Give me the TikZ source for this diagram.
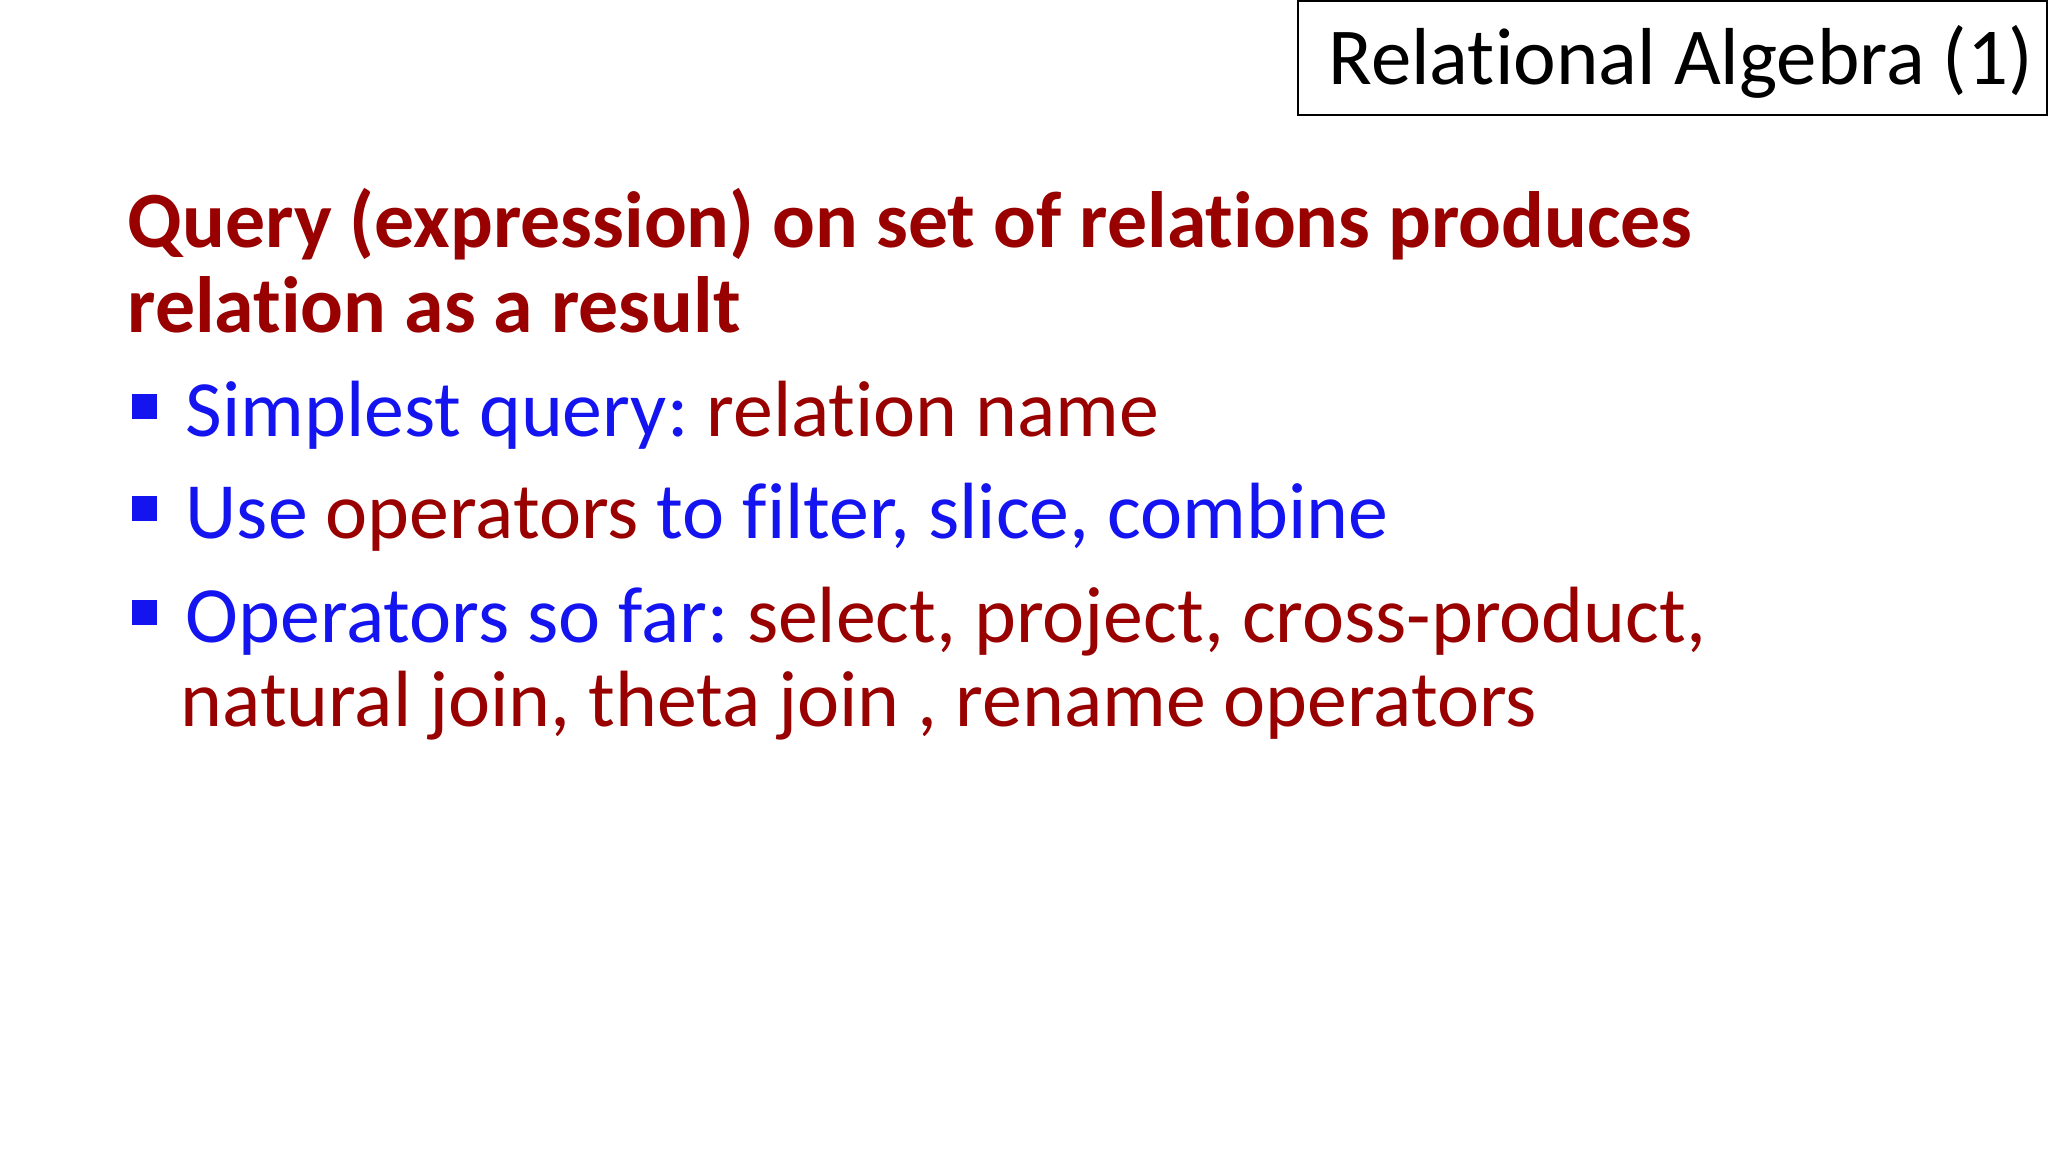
\documentclass[tikz,border=0pt]{standalone}
\usepackage{fontspec}
\setmainfont{Carlito}[Ligatures=NoCommon]
\frenchspacing
\definecolor{dred}{HTML}{990000}
\definecolor{dblue}{HTML}{1414F0}
\begin{document}
\begin{tikzpicture}[x=1cm,y=1cm,
  txt/.style={anchor=base west,inner sep=0pt,font=\fontsize{22.7}{27}\selectfont},
  bul/.style={fill=dblue,minimum size=0.25cm,inner sep=0pt}]
\useasboundingbox (0,0) rectangle (20.48,-11.52);
\fill[white] (0,0) rectangle (20.48,-11.52);
\draw[line width=0.8pt] (12.98,-0.01) rectangle (20.47,-1.15);
\node[txt,font=\fontsize{23}{27}\selectfont] (title) at (13.28,-0.85) {Relational Algebra (1)};
\node[txt,font=\fontsize{22.7}{27}\selectfont\bfseries,text=dred] (h1) at (1.27,-2.48) {Query (expression) on set of relations produces};
\node[txt,font=\fontsize{22.7}{27}\selectfont\bfseries,text=dred] (h2) at (1.27,-3.33) {relation as a result};
\node[bul] (b1) at (1.44,-4.07) {};
\node[txt] (t1) at (1.85,-4.37) {\color{dblue}Simplest query: \color{dred}relation name};
\node[bul] (b2) at (1.44,-5.09) {};
\node[txt] (t2) at (1.85,-5.39) {\color{dblue}Use \color{dred}operators \color{dblue}to filter, slice, combine};
\node[bul] (b3) at (1.44,-6.13) {};
\node[txt] (t3) at (1.85,-6.43) {\color{dblue}Operators so far: \color{dred}select, project, cross-product,};
\node[txt,text=dred] (t4) at (1.80,-7.27) {natural join, theta join , rename operators};
\end{tikzpicture}
\end{document}
